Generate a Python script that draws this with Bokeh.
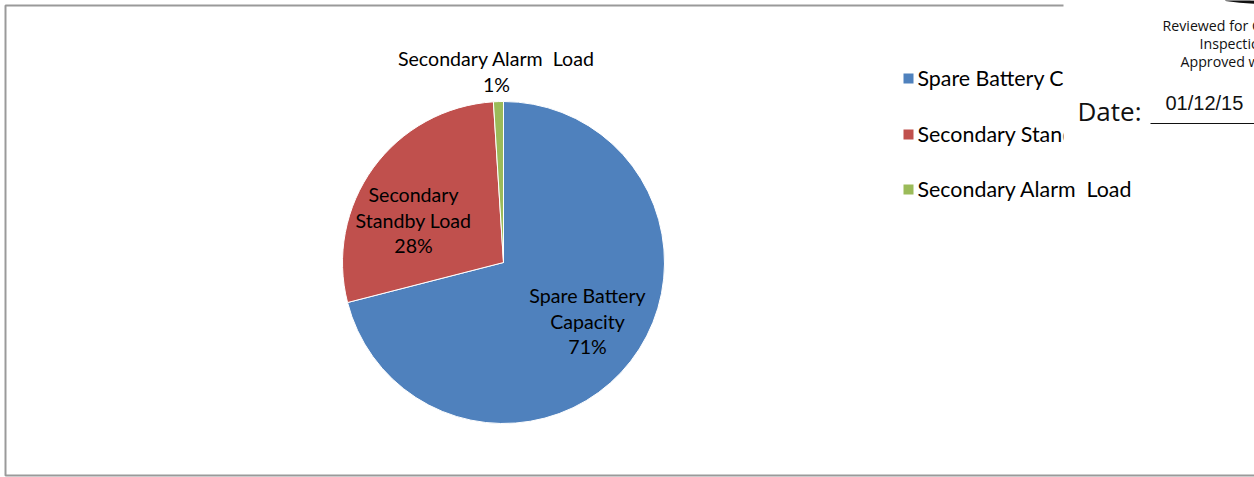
import math
from bokeh.plotting import figure
from bokeh.models import Range1d, ColumnDataSource
from bokeh.core.properties import value
from bokeh.embed import file_html
from bokeh.resources import INLINE

# --- data -------------------------------------------------------------
# (a no-break space keeps the double gap in "Alarm  Load" when drawn as SVG)
categories = ["Spare Battery Capacity", "Secondary Standby Load", "Secondary Alarm\u00a0 Load"]
percents = [71, 28, 1]
colors = ["#4F81BD", "#C0504D", "#9BBB59"]
label_lines = [
    ["Spare Battery", "Capacity", "71%"],
    ["Secondary", "Standby Load", "28%"],
    ["Secondary Alarm\u00a0 Load", "1%"],
]
stamp_lines = ["Reviewed for C", "Inspectio", "Approved w"]
stamp_date = "01/12/15"

W, H = 1254, 477


def Y(px):
    # convert a top-down pixel row into the plot's bottom-up data units
    return H - px


p = figure(width=W, height=H, output_backend="svg", toolbar_location=None,
           x_range=Range1d(0, W), y_range=Range1d(0, H), min_border=0)
p.axis.visible = False
p.grid.visible = False
p.outline_line_color = None
p.background_fill_color = "white"
p.border_fill_color = "white"

# chart area frame
p.quad(left=[5], right=[1400], bottom=[Y(475)], top=[Y(5)],
       fill_alpha=0, line_color="#9a9a9a", line_width=2)

# --- pie ----------------------------------------------------------------
cx, cy, r = 503, Y(262), 161
total = sum(percents)
starts, ends = [], []
a = math.pi / 2
for v in percents:
    starts.append(a)
    a -= 2 * math.pi * v / total
    ends.append(a)
src = ColumnDataSource(dict(start=starts, end=ends, color=colors, cat=categories))
p.wedge(x=cx, y=cy, radius=r, start_angle="start", end_angle="end",
        direction="clock", fill_color="color", line_color="white",
        line_width=1, source=src)

# data labels
font = value("Lato")
label_pos = [(587, 295), (413, 194), (496, 58)]
for lines, (lx, ly) in zip(label_lines, label_pos):
    ys = [Y(ly + 25.5 * i) for i in range(len(lines))]
    p.text(x=[lx] * len(lines), y=ys, text=lines, text_font=font,
           text_font_size="19.6px", text_align="center",
           text_baseline="middle", text_color="#000000")

# --- legend ---------------------------------------------------------------
leg_y = [78, 134, 189]
p.rect(x=[908] * 3, y=[Y(v) for v in leg_y], width=10, height=10,
       fill_color=colors, line_color=None)
p.text(x=[917] * 3, y=[Y(v - 1) for v in leg_y], text=categories, text_font=font,
       text_font_size="21.4px", text_align="left", text_baseline="middle",
       text_color="#000000")

# --- review stamp -------------------------------------------------------
p.quad(left=[1063], right=[W + 10], bottom=[Y(150)], top=[H + 5],
       fill_color="white", line_color=None)
p.arc(x=[1272], y=[Y(-336)], radius=338, start_angle=math.radians(262),
      end_angle=math.radians(292), line_color="#111111", line_width=3.5)
sfont = value("Open Sans")
p.text(x=[1162, 1199, 1180], y=[Y(25), Y(43), Y(61)], text=stamp_lines,
       text_font=sfont, text_font_size="14.2px", text_align="left",
       text_baseline="middle", text_color="#111111")
p.text(x=[1077], y=[Y(110)], text=["Date:"], text_font=sfont,
       text_font_size="26px", text_align="left", text_baseline="middle",
       text_color="#111111")
p.segment(x0=[1150], y0=[Y(123)], x1=[W + 5], y1=[Y(123)],
          line_color="#111111", line_width=1.2)
p.text(x=[1165], y=[Y(102)], text=[stamp_date],
       text_font=value("Liberation Sans"), text_font_size="20px",
       text_align="left", text_baseline="middle", text_color="#111111")

open("out.html", "w").write(file_html(p, INLINE))
